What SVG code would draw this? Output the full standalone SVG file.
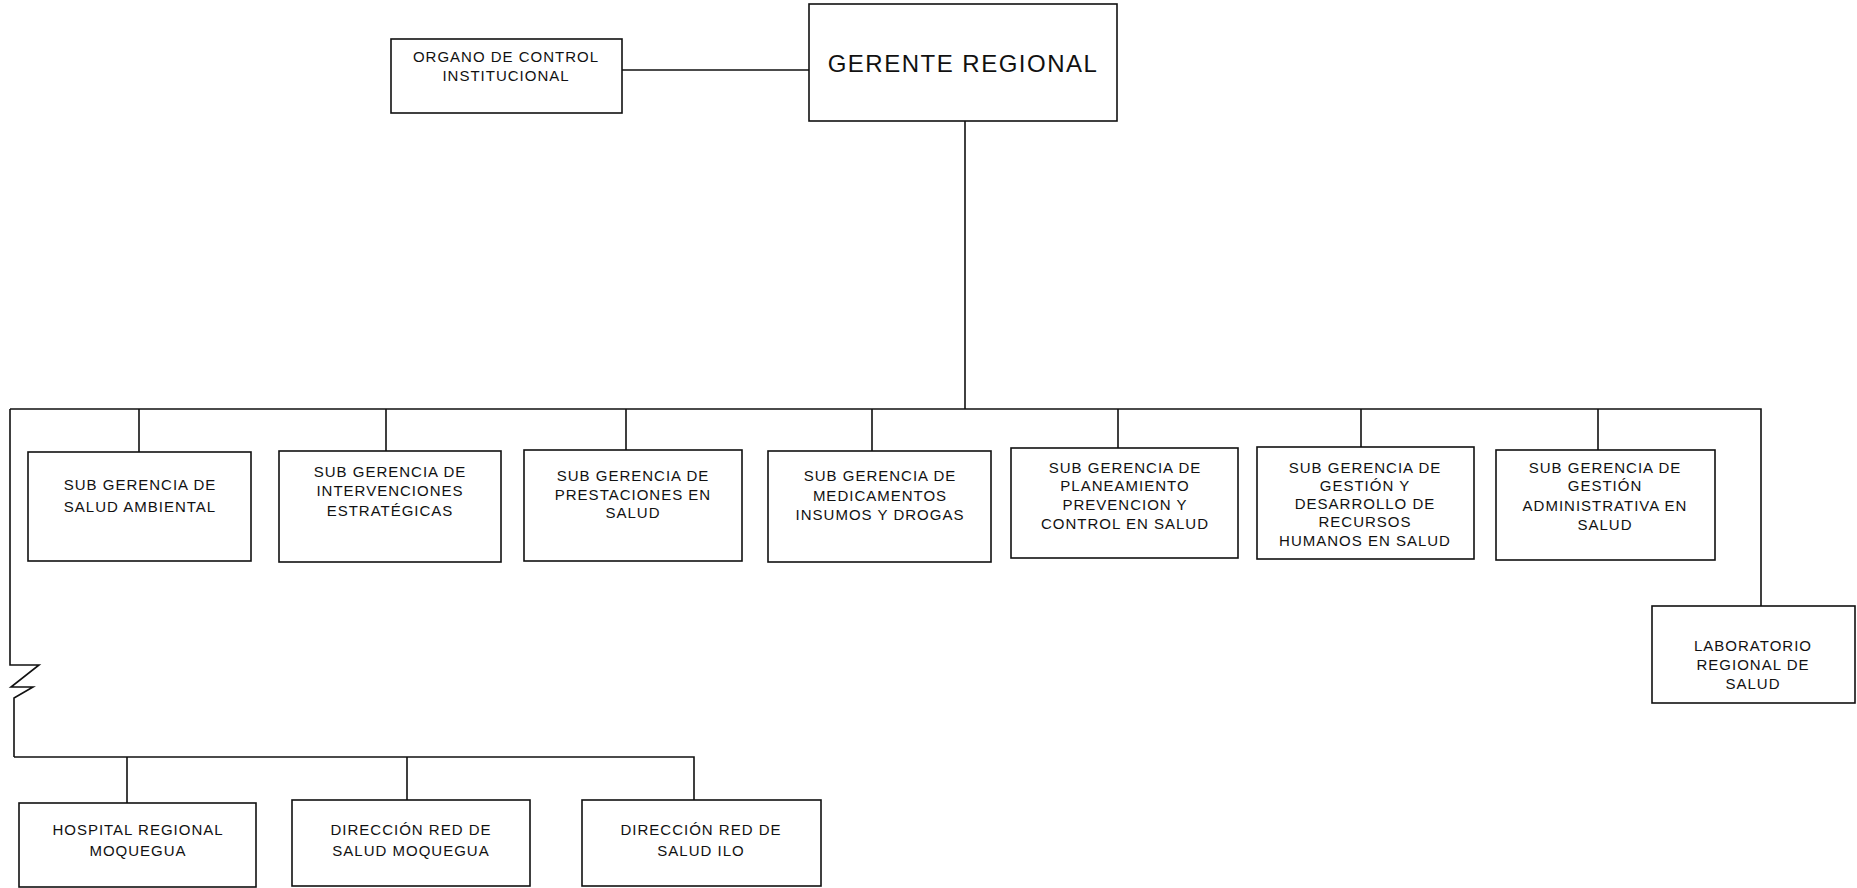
<svg xmlns="http://www.w3.org/2000/svg" width="1857" height="888" viewBox="0 0 1857 888">
<style>
.box{fill:#fff;stroke:#111;stroke-width:1.6}
.ln{fill:none;stroke:#111;stroke-width:1.6}
text{font-family:"Liberation Sans",Arial,sans-serif;font-size:15px;letter-spacing:1px;fill:#111;text-anchor:middle}
.big{font-size:24px;letter-spacing:1.5px}
</style>
<rect width="1857" height="888" fill="#fff"/>
<g id="connectors">
<path class="ln" d="M622,70 H809"/>
<path class="ln" d="M965,121 V409"/>
<path class="ln" d="M10,409 H1761 V606"/>
<path class="ln" d="M139,409 V452 M386,409 V451 M626,409 V450 M872,409 V451 M1118,409 V448 M1361,409 V447 M1598,409 V450"/>
<path class="ln" d="M10,409 V665 H39 L11,687 H33 L14,698 V757"/>
<path class="ln" d="M14,757 H694 V800 M127,757 V803 M407,757 V800"/>
</g>
<g id="organo">
<rect class="box" x="391" y="39" width="231" height="74"/>
<text x="506" y="61.5">ORGANO DE CONTROL</text>
<text x="506" y="81">INSTITUCIONAL</text>
</g>
<g id="gerente">
<rect class="box" x="809" y="4" width="308" height="117"/>
<text class="big" x="963" y="72">GERENTE REGIONAL</text>
</g>
<g id="sg-salud-ambiental">
<rect class="box" x="28" y="452" width="223" height="109"/>
<text x="140" y="490">SUB GERENCIA DE</text>
<text x="140" y="511.5">SALUD AMBIENTAL</text>
</g>
<g id="sg-intervenciones">
<rect class="box" x="279" y="451" width="222" height="111"/>
<text x="390" y="477">SUB GERENCIA DE</text>
<text x="390" y="495.5">INTERVENCIONES</text>
<text x="390" y="516">ESTRATÉGICAS</text>
</g>
<g id="sg-prestaciones">
<rect class="box" x="524" y="450" width="218" height="111"/>
<text x="633" y="481">SUB GERENCIA DE</text>
<text x="633" y="500">PRESTACIONES EN</text>
<text x="633" y="518">SALUD</text>
</g>
<g id="sg-medicamentos">
<rect class="box" x="768" y="451" width="223" height="111"/>
<text x="880" y="481">SUB GERENCIA DE</text>
<text x="880" y="500.5">MEDICAMENTOS</text>
<text x="880" y="520">INSUMOS Y DROGAS</text>
</g>
<g id="sg-planeamiento">
<rect class="box" x="1011" y="448" width="227" height="110"/>
<text x="1125" y="472.5">SUB GERENCIA DE</text>
<text x="1125" y="490.5">PLANEAMIENTO</text>
<text x="1125" y="510">PREVENCION Y</text>
<text x="1125" y="529">CONTROL EN SALUD</text>
</g>
<g id="sg-rrhh">
<rect class="box" x="1257" y="447" width="217" height="112"/>
<text x="1365" y="472.5">SUB GERENCIA DE</text>
<text x="1365" y="490.5">GESTIÓN Y</text>
<text x="1365" y="509">DESARROLLO DE</text>
<text x="1365" y="527">RECURSOS</text>
<text x="1365" y="546">HUMANOS EN SALUD</text>
</g>
<g id="sg-administrativa">
<rect class="box" x="1496" y="450" width="219" height="110"/>
<text x="1605" y="472.5">SUB GERENCIA DE</text>
<text x="1605" y="491">GESTIÓN</text>
<text x="1605" y="510.5">ADMINISTRATIVA EN</text>
<text x="1605" y="529.5">SALUD</text>
</g>
<g id="laboratorio">
<rect class="box" x="1652" y="606" width="203" height="97"/>
<text x="1753" y="651">LABORATORIO</text>
<text x="1753" y="670">REGIONAL DE</text>
<text x="1753" y="689">SALUD</text>
</g>
<g id="hospital">
<rect class="box" x="19" y="803" width="237" height="84"/>
<text x="138" y="834.5">HOSPITAL REGIONAL</text>
<text x="138" y="855.5">MOQUEGUA</text>
</g>
<g id="red-moquegua">
<rect class="box" x="292" y="800" width="238" height="86"/>
<text x="411" y="834.5">DIRECCIÓN RED DE</text>
<text x="411" y="855.5">SALUD MOQUEGUA</text>
</g>
<g id="red-ilo">
<rect class="box" x="582" y="800" width="239" height="86"/>
<text x="701" y="834.5">DIRECCIÓN RED DE</text>
<text x="701" y="855.5">SALUD ILO</text>
</g>
</svg>
